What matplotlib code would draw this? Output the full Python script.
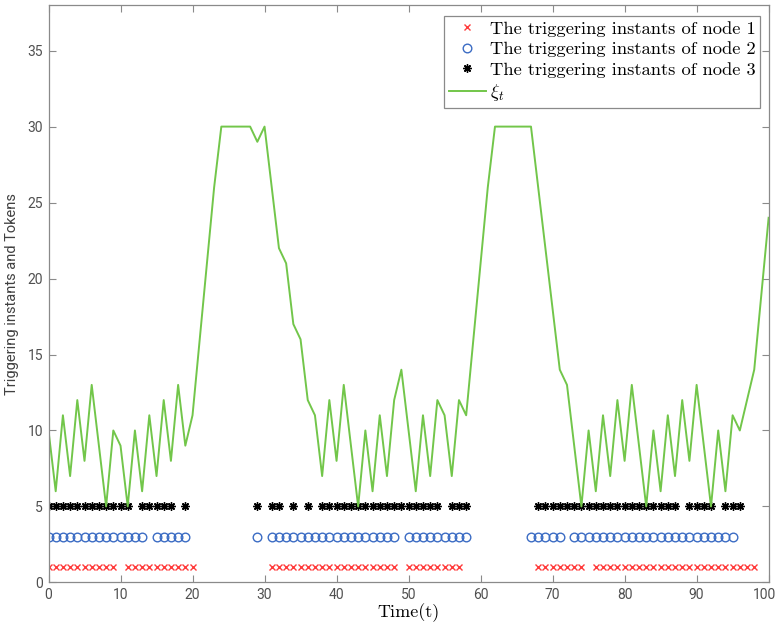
import matplotlib
matplotlib.use("Agg")
import matplotlib.pyplot as plt
import matplotlib.transforms as mtransforms

# token level xi_t, t = 0..100
t_vals = list(range(101))
xi = [10, 6, 11, 7, 12, 8, 13, 9, 5, 10, 9, 5, 10, 6, 11, 7, 12, 8, 13, 9, 11,
      16, 21, 26, 30, 30, 30, 30, 30, 29, 30,
      26, 22, 21, 17, 16, 12, 11, 7, 12, 8,
      13, 9, 5, 10, 6, 11, 7, 12, 14, 10,
      6, 11, 7, 12, 11, 7, 12, 11, 16, 21,
      26, 30, 30, 30, 30, 30, 30, 26, 22, 18,
      14, 13, 9, 5, 10, 6, 11, 7, 12, 8,
      13, 9, 5, 10, 6, 11, 7, 12, 8, 13,
      9, 5, 10, 6, 11, 10, 12, 14, 19, 24]

# triggering instants
node1 = [0, 1, 2, 3, 4, 5, 6, 7, 8, 9,
         11, 12, 13, 14, 15, 16, 17, 18, 19, 20,
         31, 32, 33, 34, 35, 36, 37, 38, 39, 40, 41, 42, 43, 44, 45, 46, 47, 48,
         50, 51, 52, 53, 54, 55, 56, 57,
         68, 69, 70, 71, 72, 73, 74,
         76, 77, 78, 79, 80, 81, 82, 83, 84, 85, 86, 87, 88, 89, 90, 91, 92, 93,
         94, 95, 96, 97, 98]
node2 = [0, 1, 2, 3, 4, 5, 6, 7, 8, 9, 10, 11, 12, 13,
         15, 16, 17, 18, 19,
         29,
         31, 32, 33, 34, 35, 36, 37, 38, 39, 40, 41, 42, 43, 44, 45, 46, 47, 48,
         50, 51, 52, 53, 54, 55, 56, 57, 58,
         67, 68, 69, 70, 71,
         73, 74, 75, 76, 77, 78, 79, 80, 81, 82, 83, 84, 85, 86, 87, 88, 89, 90,
         91, 92, 93, 94, 95]
node3 = [0, 1, 2, 3, 4, 5, 6, 7, 8, 9, 10, 11,
         13, 14, 15, 16, 17,
         19,
         29, 31, 32, 34, 36,
         38, 39, 40, 41, 42, 43, 44, 45, 46, 47, 48, 49, 50, 51, 52, 53, 54,
         56, 57, 58,
         68, 69, 70, 71, 72, 73, 74, 75, 76, 77, 78, 79, 80, 81, 82, 83, 84, 85,
         86, 87,
         89, 90, 91, 92,
         94, 95, 96]
lvl1, lvl2, lvl3 = 1, 3, 5

plt.rcParams['mathtext.fontset'] = 'cm'

fig = plt.figure(figsize=(7.76, 6.31), dpi=100)
ax = fig.add_axes([0.0625, 0.077, 0.928, 0.915])

ax.plot(node1, [lvl1] * len(node1), linestyle='none', marker='x', color='#ff3b3b',
        markersize=5, markeredgewidth=1.0, label='The triggering instants of node 1')
ax.plot(node2, [lvl2] * len(node2), linestyle='none', marker='o', markerfacecolor='none',
        markeredgecolor='#3b6cc4', markersize=6.2, markeredgewidth=1.0,
        label='The triggering instants of node 2')
ax.plot(node3, [lvl3] * len(node3), linestyle='none', marker=(8, 2, 0), color='k',
        markersize=6, markeredgewidth=1.0, label='The triggering instants of node 3')
ax.plot(t_vals, xi, color='#72c64a', linewidth=1.4, label=r'$\xi_t$')

ax.set_xlim(0, 100)
ax.set_ylim(0, 38)
ax.set_xticks(range(0, 101, 10))
ax.set_yticks(range(0, 36, 5))

gray = '#8a8a8a'
for s in ax.spines.values():
    s.set_color(gray)
    s.set_linewidth(0.9)
ax.tick_params(direction='in', top=True, right=True, length=5, width=0.8,
               color=gray, labelcolor='#505050', labelsize=10, pad=4)
for lab in ax.get_xticklabels() + ax.get_yticklabels():
    lab.set_family('Roboto')
# keep the "100" label inside the figure
last = ax.get_xticklabels()[-1]
last.set_transform(last.get_transform() +
                   mtransforms.ScaledTranslation(-4 / 100, 0, fig.dpi_scale_trans))

ax.set_xlabel('Time(t)', family='cmr10', fontsize=13, labelpad=1)
ax.set_ylabel('Triggering instants and Tokens', family='Roboto', fontsize=10.5,
              color='#404040', labelpad=6)

leg = ax.legend(loc='upper right', bbox_to_anchor=(0.988, 0.981), borderaxespad=0,
                prop={'family': 'cmr10', 'size': 13.3}, fancybox=False, framealpha=1,
                edgecolor=gray, handlelength=2.0, handletextpad=0.2,
                labelspacing=0.25, borderpad=0.25)
leg.get_frame().set_linewidth(0.9)

fig.savefig('out.png', dpi=100)
